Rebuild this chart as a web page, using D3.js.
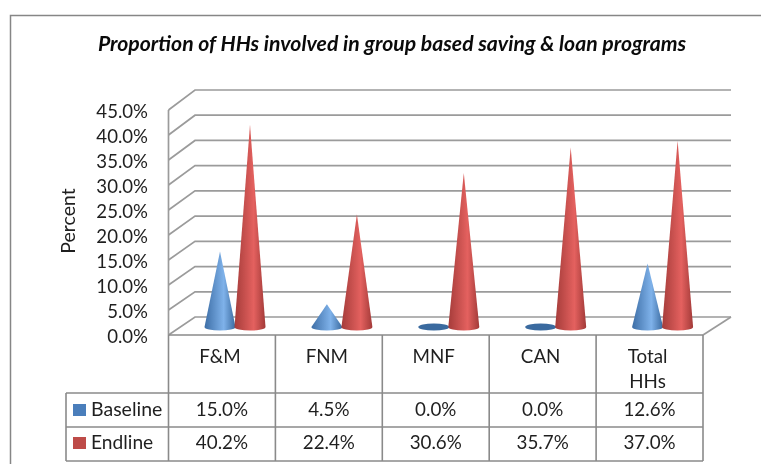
<!DOCTYPE html>
<html><head><meta charset="utf-8">
<script src="https://cdnjs.cloudflare.com/ajax/libs/d3/7.8.5/d3.min.js"></script>
<style>html,body{margin:0;padding:0;background:#fff}svg{display:block;filter:blur(0.35px)}text{font-family:Lato,"Open Sans",sans-serif;fill:#1f1f1f}</style>
</head><body><svg id="c" width="761" height="464"></svg>
<script>
const categories = ["F&M","FNM","MNF","CAN","Total HHs"];
const seriesNames = ["Baseline","Endline"];
const baseline = [15.0,4.5,0.0,0.0,12.6];
const endline = [40.2,22.4,30.6,35.7,37.0];
const yTicks = [0,5,10,15,20,25,30,35,40,45];
const titleText = "Proportion of HHs involved in group based saving & loan programs";
const axisTitle = "Percent";
const colors = {Baseline:["#3d6ea6","#7fb2ea","#3a6a9f"],Endline:["#a53c3a","#e4615f","#a23a38"]};
const swatch = {Baseline:"#4a7ebb",Endline:"#be4b48"};

const svg = d3.select("#c");
const grid = "#9b9b9b", line = "#8a8a8a";
const x = d3.scaleBand().domain(categories).range([168.5,703]);
const inner = d3.scaleBand().domain(seriesNames).range([36.5,96.5]);
const yFront = d3.scaleLinear().domain([0,45]).range([335,110]);
const yBack = d3.scaleLinear().domain([0,45]).range([317,90]);
const yCone = d3.scaleLinear().domain([0,45]).range([327,100.6]);
const backL = 195, backR = 731;

const defs = svg.append("defs");
seriesNames.forEach(s=>{
  const g = defs.append("linearGradient").attr("id","g"+s);
  [[0,colors[s][0]],[.62,colors[s][1]],[1,colors[s][2]]].forEach(([o,c])=>g.append("stop").attr("offset",o).attr("stop-color",c));
});

// outer frame
svg.append("path").attr("d","M10.5,464V15.5H761").attr("fill","none").attr("stroke","#868686").attr("stroke-width",1.5);

// title
svg.append("text").attr("x",392).attr("y",51).attr("text-anchor","middle")
  .attr("font-size",21.2).attr("font-weight",700).attr("font-style","italic").style("fill","#0a0a0a").text(titleText);

// walls
const wall = svg.append("g").attr("fill","none").attr("stroke",grid).attr("stroke-width",1.7);
yTicks.forEach(t=>{
  wall.append("path").attr("d",`M${x.range()[0]},${yFront(t)}L${backL},${yBack(t)}H${backR}`);
});
wall.append("path").attr("d",`M${x.range()[0]},${yFront(0)}V${yFront(45)}`);
wall.append("path").attr("d",`M${backR},${yBack(0)}L${x.range()[1]},${yFront(0)}`);

// y axis labels
const ax = svg.append("g").attr("transform","translate(148,2)")
  .call(d3.axisLeft(yFront).tickValues(yTicks).tickSize(0).tickPadding(0).tickFormat(d=>d.toFixed(1)+"%"));
ax.select(".domain").remove();
ax.selectAll("text").attr("font-size",18.6).style("font-family","Lato,sans-serif").style("fill","#1f1f1f");

svg.append("text").attr("transform","translate(75,221) rotate(-90)").attr("text-anchor","middle")
  .attr("font-size",19.5).text(axisTitle);

// cones
const rx = 15.5, ry = 3.6;
function cones(name, values){
  const g = svg.append("g");
  values.forEach((v,i)=>{
    const cx = x(categories[i]) + inner(name) + inner.bandwidth()/2;
    const y0 = yCone(0), yv = yCone(v);
    if (v === 0) {
      g.append("ellipse").attr("cx",cx).attr("cy",y0).attr("rx",rx).attr("ry",ry).attr("fill",colors[name][2]);
    } else {
      g.append("path")
       .attr("d",`M${cx-rx},${y0}L${cx},${yv}L${cx+rx},${y0}A${rx},${ry} 0 0 1 ${cx-rx},${y0}Z`)
       .attr("fill",`url(#g${name})`);
    }
  });
}
cones("Baseline",baseline);
cones("Endline",endline);

// data table
const rowY = [335,393,427,461];
const tableLeft = 66;
const tbl = svg.append("g").attr("fill","none").attr("stroke",line).attr("stroke-width",1.6);
tbl.append("path").attr("d",`M${x.range()[0]},${rowY[0]}H${x.range()[1]}`);
rowY.slice(1).forEach(y=>tbl.append("path").attr("d",`M${tableLeft},${y}H${x.range()[1]}`));
tbl.append("path").attr("d",`M${tableLeft},${rowY[1]}V${rowY[3]}`);
categories.forEach(c=>tbl.append("path").attr("d",`M${x(c)},${rowY[0]}V${rowY[3]}`));
tbl.append("path").attr("d",`M${x.range()[1]},${rowY[0]}V${rowY[3]}`);

const fs = 18.8;
categories.forEach(c=>{
  const cx = x(c)+x.bandwidth()/2-2;
  const parts = c === "Total HHs" ? c.split(" ") : [c];
  parts.forEach((p,k)=>svg.append("text").attr("x",cx).attr("y",362.5+k*25).attr("text-anchor","middle").attr("font-size",fs).text(p));
});
[["Baseline",baseline,416],["Endline",endline,449]].forEach(([name,vals,y])=>{
  svg.append("rect").attr("x",73).attr("y",y-12).attr("width",13).attr("height",12).attr("fill",swatch[name]);
  svg.append("text").attr("x",91).attr("y",y).attr("font-size",name==="Baseline"?19.5:19.2).text(name);
  vals.forEach((v,i)=>svg.append("text").attr("x",x(categories[i])+x.bandwidth()/2).attr("y",y).attr("text-anchor","middle").attr("font-size",fs).text(v.toFixed(1)+"%"));
});
</script></body></html>
